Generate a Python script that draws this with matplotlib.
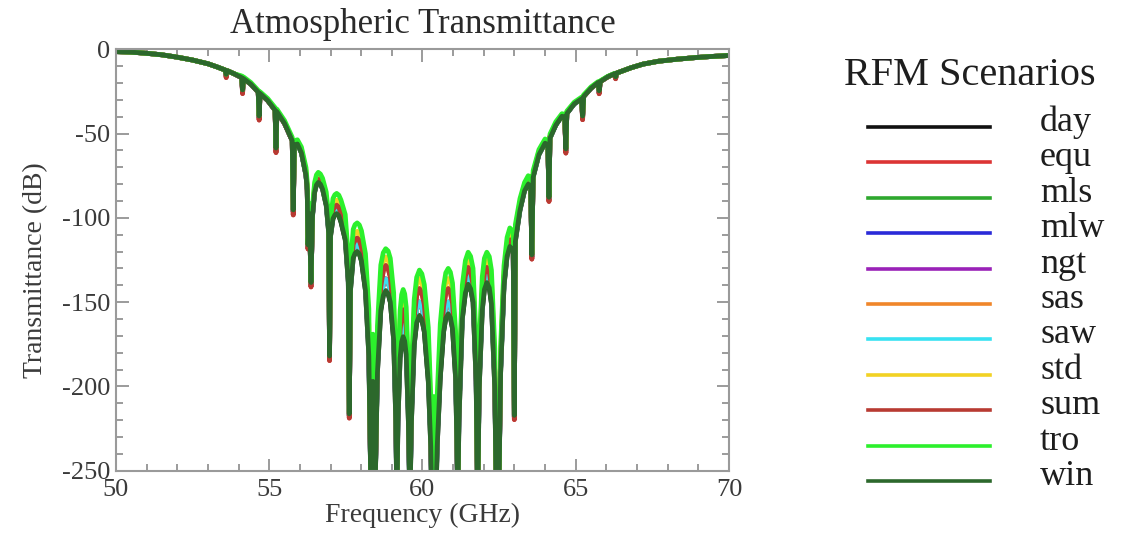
import matplotlib
matplotlib.use("Agg")
import matplotlib.pyplot as plt
from matplotlib.lines import Line2D
from matplotlib.ticker import MultipleLocator

plt.rcParams['font.family'] = ['Liberation Serif', 'DejaVu Serif']
plt.rcParams['axes.unicode_minus'] = False

# frequency grid (GHz) the traces were read at; -270 = below the -250 dB floor
freq_ghz = [
    # low wing
    50.0, 50.5, 51.0, 51.5, 52.0, 52.5, 53.0, 53.3, 53.56, 53.596,
    53.63, 53.85, 54.10, 54.13, 54.16, 54.40, 54.64, 54.671, 54.70, 54.95,
    55.19, 55.221, 55.25, 55.50, 55.75, 55.784, 55.82, 55.92, 56.05, 56.20,
    56.24, 56.265, 56.31, 56.363, 56.41,
    # band centre
    56.48, 56.54, 56.60, 56.67, 56.74, 56.86, 56.94, 56.968, 57.00, 57.08,
    57.14, 57.20, 57.27, 57.34, 57.48, 57.58, 57.612, 57.65, 57.74, 57.80,
    57.87, 57.94, 58.01, 58.14, 58.25, 58.323, 58.385, 58.446, 58.53, 58.64,
    58.72, 58.80, 58.88, 58.95, 59.06, 59.13, 59.164, 59.20, 59.27, 59.32,
    59.37, 59.42, 59.47, 59.54, 59.59, 59.64, 59.73, 59.81, 59.90, 59.98,
    60.06, 60.19, 60.27, 60.306, 60.37, 60.434, 60.48, 60.58, 60.69, 60.76,
    60.84, 60.91, 60.98, 61.08, 61.12, 61.15, 61.19, 61.30, 61.40, 61.49,
    61.57, 61.65, 61.75, 61.80, 61.85, 61.95, 62.02, 62.10, 62.18, 62.25,
    62.36, 62.411, 62.45, 62.486, 62.55, 62.66, 62.76, 62.85, 62.96,
    # high wing
    62.997, 63.03, 63.18, 63.33, 63.45,
    63.53, 63.568, 63.61, 63.80, 64.00, 64.09, 64.127, 64.16, 64.35, 64.55,
    64.64, 64.678, 64.71, 64.95, 65.19, 65.224, 65.26, 65.50, 65.73, 65.764,
    65.80, 66.05, 66.27, 66.302, 66.34, 66.80, 67.20, 67.70, 68.30, 69.00,
    69.50, 70.00,
]

# day / win trace (lowest, dark)
day_db = [
    -1.4, -1.7, -2.4, -3.3, -4.7, -6.4, -8.6, -10.5, -12.3, -14.8,
    -12.7, -14.5, -16.8, -24.1, -17.4, -20.7, -25.4, -39.6, -26.2, -30.4,
    -36.1, -58.6, -37.0, -44.0, -54.2, -95.3, -56.7, -56.2, -61.5, -75.0,
    -84.0, -116.0, -97.5, -138.4, -99.5,
    -85.0, -80.5, -79.0, -80.0, -83.0, -92.7, -109.0, -182.0, -111.0, -100.5,
    -98.3, -97.5, -98.7, -102.4, -113.0, -138.4, -216.3, -143.3, -123.8, -121.0,
    -120.0, -121.4, -125.7, -143.3, -182.0, -270, -197.0, -270, -192.0, -155.0,
    -146.2, -143.3, -145.0, -150.0, -172.5, -221.0, -270, -221.0, -183.0, -173.6,
    -170.5, -173.1, -181.0, -221.0, -270, -221.0, -175.4, -162.3, -158.0, -160.4,
    -167.6, -197.0, -235.7, -270, -258.0, -270, -235.7, -195.0, -167.6, -159.6,
    -157.0, -159.2, -165.7, -195.0, -231.0, -270, -221.0, -160.0, -144.5, -139.4,
    -142.0, -150.0, -197.0, -270, -201.6, -155.0, -142.5, -138.4, -141.5, -151.0,
    -201.6, -270, -258.0, -270, -192.0, -140.3, -122.8, -117.0, -119.0,
    -217.2, -114.0, -95.6, -84.0, -80.0,
    -81.0, -122.0, -76.0, -62.5, -55.7, -56.7, -87.8, -52.8, -45.0, -39.7,
    -40.1, -59.1, -38.2, -32.4, -29.4, -39.6, -28.0, -23.1, -19.7, -24.6,
    -19.2, -16.3, -14.5, -16.3, -14.1, -11.0, -8.8, -7.1, -5.9, -4.8,
    -4.2, -3.7,
]

# mls / mlw / ngt / sas / saw (hidden just above the day trace)
mid_db = [
    -1.4, -1.7, -2.4, -3.3, -4.7, -6.4, -8.6, -10.5, -12.3, -15.8,
    -12.7, -14.5, -16.8, -25.1, -17.4, -20.7, -25.4, -40.6, -26.2, -30.4,
    -36.1, -59.6, -37.0, -44.0, -54.2, -96.3, -56.4, -55.9, -61.0, -74.5,
    -83.5, -117.0, -96.5, -139.4, -98.5,
    -84.0, -79.5, -78.0, -79.0, -82.0, -91.2, -107.0, -183.0, -109.0, -98.5,
    -96.3, -95.5, -96.7, -100.4, -110.0, -135.4, -217.3, -140.3, -119.8, -117.0,
    -116.0, -117.4, -121.7, -138.3, -177.0, -270, -192.0, -270, -187.0, -148.0,
    -139.2, -136.3, -138.0, -143.0, -165.5, -214.0, -270, -214.0, -175.0, -165.6,
    -162.5, -165.1, -173.0, -214.0, -270, -214.0, -167.4, -154.3, -150.0, -152.4,
    -159.6, -189.0, -229.7, -270, -253.0, -270, -229.7, -187.0, -160.6, -152.6,
    -150.0, -152.2, -158.7, -188.0, -225.0, -270, -215.0, -155.0, -139.5, -134.4,
    -137.0, -145.0, -192.0, -270, -196.6, -150.0, -137.5, -133.4, -136.5, -146.0,
    -196.6, -270, -258.0, -270, -189.0, -138.3, -120.8, -115.0, -117.0,
    -218.2, -112.0, -94.6, -83.0, -79.0,
    -80.0, -123.0, -75.0, -62.0, -55.2, -56.2, -88.8, -52.3, -44.7, -39.4,
    -39.8, -60.1, -37.9, -32.4, -29.4, -40.6, -28.0, -23.1, -19.7, -25.6,
    -19.2, -16.3, -14.5, -17.0, -14.1, -11.0, -8.8, -7.1, -5.9, -4.8,
    -4.2, -3.7,
]

# equ / sum (red tips at the line centres)
red_db = [
    -1.4, -1.7, -2.4, -3.3, -4.7, -6.4, -8.6, -10.5, -12.3, -16.8,
    -12.7, -14.5, -16.8, -26.3, -17.4, -20.7, -25.4, -42.0, -26.2, -30.4,
    -36.1, -61.3, -37.0, -44.0, -54.2, -98.3, -56.2, -55.7, -60.5, -74.0,
    -83.0, -118.5, -95.5, -141.0, -97.5,
    -83.0, -78.5, -77.0, -78.0, -81.0, -89.7, -105.0, -184.7, -107.0, -95.5,
    -93.3, -92.5, -93.7, -97.4, -107.0, -132.4, -218.8, -137.3, -115.8, -113.0,
    -112.0, -113.4, -117.7, -133.3, -172.0, -270, -187.0, -270, -182.0, -141.0,
    -131.5, -128.3, -130.0, -135.0, -157.5, -206.0, -270, -206.0, -167.0, -157.6,
    -154.5, -157.1, -165.0, -206.0, -270, -206.0, -159.4, -146.3, -142.0, -144.4,
    -151.6, -181.0, -223.7, -270, -246.0, -270, -223.7, -179.0, -152.6, -144.6,
    -142.0, -144.2, -150.7, -181.0, -219.0, -270, -209.0, -150.0, -134.5, -129.4,
    -132.0, -140.0, -187.0, -270, -191.6, -145.0, -133.3, -129.4, -132.3, -141.0,
    -191.6, -270, -253.0, -270, -186.0, -135.3, -118.6, -113.0, -115.0,
    -219.7, -110.0, -92.6, -82.0, -78.0,
    -79.0, -124.5, -74.5, -61.5, -54.7, -55.7, -90.3, -51.8, -44.5, -39.2,
    -39.6, -61.6, -37.7, -32.2, -29.2, -41.8, -28.0, -23.1, -19.7, -26.4,
    -19.2, -16.3, -14.5, -17.5, -14.1, -11.0, -8.8, -7.1, -5.9, -4.8,
    -4.2, -3.7,
]

# std (yellow band)
std_db = [
    -1.4, -1.7, -2.4, -3.3, -4.7, -6.4, -8.6, -10.5, -12.3, -14.8,
    -12.7, -14.5, -16.3, -24.1, -16.9, -20.2, -24.9, -39.6, -25.7, -29.9,
    -35.6, -58.6, -36.5, -43.5, -53.2, -95.3, -55.2, -54.7, -59.5, -72.2,
    -81.0, -116.0, -93.5, -138.4, -95.5,
    -81.0, -76.5, -75.0, -76.0, -79.0, -87.7, -103.0, -182.0, -105.0, -92.5,
    -90.3, -89.5, -90.7, -94.4, -103.0, -128.4, -216.3, -133.3, -111.8, -109.0,
    -108.0, -109.4, -113.7, -128.3, -164.0, -270, -177.0, -270, -174.0, -135.0,
    -126.2, -123.3, -125.0, -130.0, -152.5, -199.0, -270, -199.0, -161.0, -151.6,
    -148.5, -151.1, -159.0, -199.0, -270, -199.0, -153.4, -140.3, -136.0, -138.4,
    -145.6, -173.0, -215.7, -270, -228.0, -270, -215.7, -171.0, -146.6, -138.6,
    -136.0, -138.2, -144.7, -175.0, -213.0, -270, -203.0, -145.0, -129.5, -124.4,
    -127.0, -135.0, -181.0, -270, -185.6, -140.0, -128.3, -124.4, -127.3, -136.0,
    -185.6, -270, -246.0, -270, -182.0, -132.3, -114.8, -109.0, -111.0,
    -217.2, -107.0, -90.6, -80.0, -77.0,
    -78.0, -122.0, -73.5, -60.5, -54.2, -55.2, -87.8, -51.3, -44.0, -38.7,
    -39.1, -59.1, -37.2, -31.9, -28.9, -39.6, -27.5, -22.8, -19.5, -24.6,
    -19.0, -16.3, -14.5, -16.3, -14.1, -11.0, -8.8, -7.1, -5.9, -4.8,
    -4.2, -3.7,
]

# tro (bright green, highest between the lines)
tro_db = [
    -1.4, -1.7, -2.4, -3.3, -4.7, -6.4, -8.6, -10.5, -12.3, -14.8,
    -12.7, -14.5, -15.8, -24.0, -16.4, -19.7, -24.4, -39.4, -25.2, -29.2,
    -34.6, -58.3, -35.5, -42.3, -52.2, -95.0, -54.2, -53.7, -58.0, -70.2,
    -79.0, -115.5, -91.5, -137.9, -93.5,
    -79.0, -74.5, -73.0, -74.0, -76.5, -84.7, -99.0, -181.0, -101.0, -88.5,
    -86.3, -85.5, -86.5, -89.4, -98.0, -123.4, -215.3, -128.3, -106.8, -104.0,
    -103.0, -104.2, -107.7, -121.3, -154.0, -270, -169.0, -270, -164.0, -128.0,
    -120.7, -118.3, -119.7, -124.0, -144.5, -191.0, -270, -191.0, -155.0, -145.6,
    -142.5, -145.1, -153.0, -191.0, -270, -191.0, -148.4, -135.3, -131.0, -133.2,
    -139.6, -165.0, -205.7, -270, -206.0, -270, -205.7, -163.0, -140.6, -132.6,
    -130.0, -132.2, -138.7, -167.0, -206.0, -270, -196.0, -140.0, -125.3, -120.4,
    -122.8, -130.0, -173.0, -270, -177.6, -135.0, -124.0, -120.4, -123.0, -131.0,
    -177.6, -270, -236.0, -270, -176.0, -128.3, -111.6, -106.0, -108.0,
    -216.2, -104.0, -88.6, -79.0, -75.0,
    -76.0, -121.4, -72.0, -59.5, -53.2, -54.2, -87.3, -50.3, -43.0, -38.2,
    -38.6, -58.6, -36.7, -31.4, -28.4, -39.4, -27.0, -22.3, -19.2, -24.4,
    -18.7, -16.0, -14.3, -16.1, -14.1, -11.0, -8.8, -7.1, -5.9, -4.8,
    -4.2, -3.7,
]

scenarios = ['day', 'equ', 'mls', 'mlw', 'ngt', 'sas', 'saw', 'std', 'sum', 'tro', 'win']
colors = ['#111111', '#dc3434', '#2ea82e', '#2a2ad8', '#9a22b8', '#f0862a',
          '#38e2f2', '#f2d224', '#b83a32', '#2cf02c', '#2c682c']
traces = [day_db, red_db, mid_db, mid_db, mid_db, mid_db, mid_db, std_db, red_db, tro_db, day_db]

fig = plt.figure(figsize=(11.36, 5.42), dpi=100)
ax = fig.add_axes([0.1021, 0.1316, 0.5396, 0.7775])

for name, col, vals in zip(scenarios, colors, traces):
    ax.plot(freq_ghz, vals, color=col, lw=3.4, solid_joinstyle='round', label=name)

ax.set_xlim(50, 70)
ax.set_ylim(-250, 0)
ax.xaxis.set_major_locator(MultipleLocator(5))
ax.xaxis.set_minor_locator(MultipleLocator(1))
ax.yaxis.set_major_locator(MultipleLocator(50))
ax.yaxis.set_minor_locator(MultipleLocator(10))

txt = '#3a3a3a'
ax.tick_params(which='both', direction='in', top=True, right=True, color='#8a8a8a', width=1.2)
ax.tick_params(which='major', length=9, labelsize=19, labelcolor=txt)
ax.tick_params(which='minor', length=5)
ax.tick_params(axis='x', pad=6)
ax.tick_params(axis='y', pad=4)
for sp in ax.spines.values():
    sp.set_color('#9a9a9a')
    sp.set_linewidth(1.5)

ax.set_title('Atmospheric Transmittance', fontsize=25, color='#2a2a2a', pad=11.5)
ax.set_xlabel('Frequency (GHz)', fontsize=20, color=txt)
ax.set_ylabel('Transmittance (dB)', fontsize=20, color=txt)
ax.xaxis.set_label_coords(0.5, -0.077)
ax.yaxis.set_label_coords(-0.111, 0.476)

# legend block on the right
W, H = 1136.0, 542.0
fig.text(970 / W, 1 - 85 / H, 'RFM Scenarios', fontsize=29, color='#1e1e1e',
         ha='center', va='baseline')
for i, (name, col) in enumerate(zip(scenarios, colors)):
    yrow = 127 + i * 35.4
    fig.add_artist(Line2D([868 / W, 990 / W], [1 - yrow / H, 1 - yrow / H],
                          color=col, lw=2.6, transform=fig.transFigure))
    fig.text(1040 / W, 1 - (yrow + 4) / H, name, fontsize=26, color='#1e1e1e',
             ha='left', va='baseline')

fig.savefig('out.png', dpi=100)
